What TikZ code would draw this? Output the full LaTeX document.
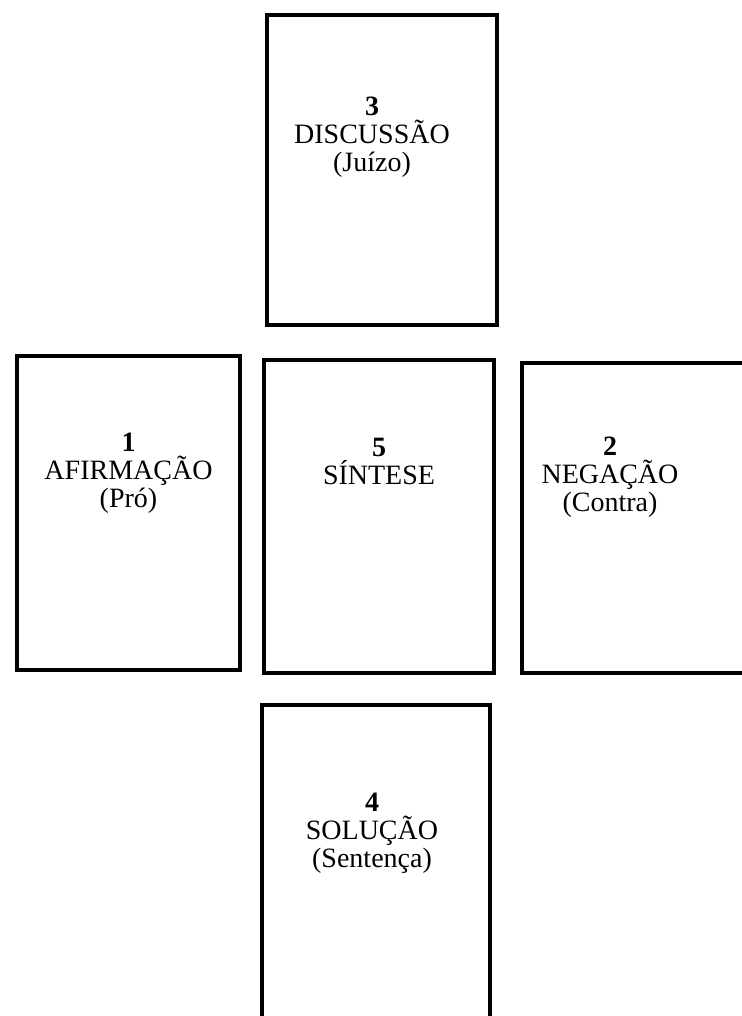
\documentclass[tikz,border=0pt]{standalone}
\usepackage{fontspec}
\setmainfont{Liberation Serif}
\usetikzlibrary{positioning}

\begin{document}
\begin{tikzpicture}[x=0.5pt, y=-0.5pt,
  card/.style={draw, line width=2pt, inner sep=0pt},
  label/.style={inner sep=0pt, align=center,
    font=\fontsize{14}{14}\selectfont}]

\useasboundingbox[fill=white] (0,0) rectangle (741,1016);

% ---------- cards ----------
\node[card, minimum width=115pt, minimum height=155pt] (discuss) at (382,170) {};
\node[card, minimum width=111.5pt, minimum height=157pt] (afirm) at (128.5,513) {};
\node[card, minimum width=115pt, minimum height=156.5pt] (sintese) at (379,516.5) {};
\node[card, minimum width=119pt, minimum height=155pt] (negac) at (641,518) {};
\node[card, minimum width=114pt, minimum height=157.5pt] (solucao) at (376,862.5) {};

% ---------- texts ----------
\node[label, below=42pt of discuss.north, xshift=-5pt] (tdiscuss)
  {\textbf{3}\\DISCUSSÃO\\(Juízo)};
\node[label, below=39.5pt of afirm.north] (tafirm)
  {\textbf{1}\\AFIRMAÇÃO\\(Pró)};
\node[label, below=40pt of sintese.north] (tsintese)
  {\textbf{5}\\SÍNTESE};
\node[label, below=38pt of negac.north, xshift=-15.5pt] (tnegac)
  {\textbf{2}\\NEGAÇÃO\\(Contra)};
\node[label, below=45pt of solucao.north, xshift=-2pt] (tsolucao)
  {\textbf{4}\\SOLUÇÃO\\(Sentença)};

\end{tikzpicture}
\end{document}
